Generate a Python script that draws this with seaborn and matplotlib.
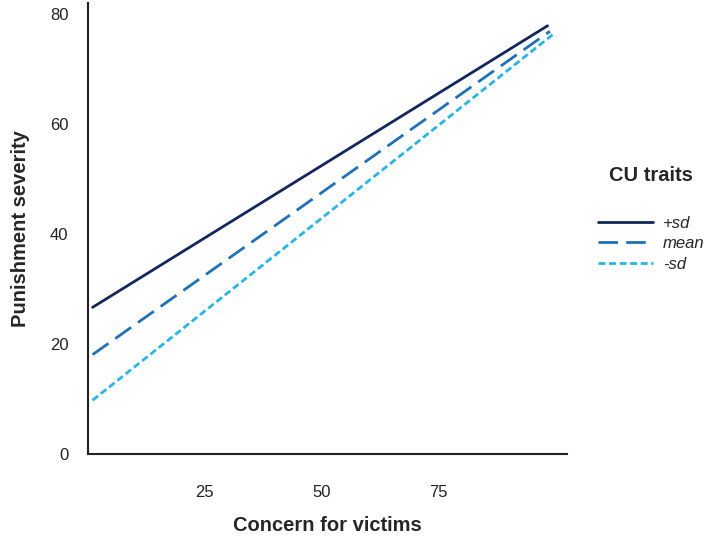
import numpy as np
import pandas as pd
import matplotlib
matplotlib.use("Agg")
import matplotlib.pyplot as plt
import seaborn as sns
from matplotlib.lines import Line2D

groups = ["+sd", "mean", "-sd"]
x_start = [1, 1, 1]
x_end = [98.3, 98.8, 99.4]
y_start = [26.7, 18.1, 9.8]
y_end = [77.9, 76.9, 76.3]
colors = ["#14265c", "#1f70b5", "#2ab4e6"]
xticks = [25, 50, 75]
yticks = [0, 20, 40, 60, 80]

rows = []
for g, xs, xe, ys, ye in zip(groups, x_start, x_end, y_start, y_end):
    rows.append({"Concern": xs, "Punish": ys, "CU": g})
    rows.append({"Concern": xe, "Punish": ye, "CU": g})
df = pd.DataFrame(rows)

sns.set_theme(style="white")
plt.rcParams["font.family"] = ["Liberation Sans", "DejaVu Sans"]

fig = plt.figure(figsize=(7.09, 5.4), dpi=100)
ax = fig.add_axes([0.124, 0.159, 0.676, 0.835])

dash_specs = [None, (7, 3), (2.5, 1.3)]
dashes = {g: (d if d else "") for g, d in zip(groups, dash_specs)}
sns.lineplot(data=df, x="Concern", y="Punish", hue="CU", style="CU",
             hue_order=groups, style_order=groups,
             palette=dict(zip(groups, colors)), dashes=dashes,
             linewidth=2, ax=ax, legend=False)

ax.set_xlim(0, 102.5)
ax.set_ylim(0, 82)
ax.set_xticks(xticks)
ax.set_yticks(yticks)
ax.tick_params(axis="both", labelsize=12, colors="#222222", length=0)
ax.tick_params(axis="x", pad=22)
ax.tick_params(axis="y", pad=14)
for s in ["top", "right"]:
    ax.spines[s].set_visible(False)
for s in ["left", "bottom"]:
    ax.spines[s].set_color("#222222")
    ax.spines[s].set_linewidth(1.5)
ax.set_xlabel("Concern for victims", fontsize=14.5, fontweight="bold", labelpad=12)
ax.set_ylabel("Punishment severity", fontsize=14.5, fontweight="bold", labelpad=14)

handles = [Line2D([], [], color=c, lw=2, linestyle=(0, d) if d else "-")
           for c, d in zip(colors, dash_specs)]
leg = fig.legend(handles, groups, loc="upper left", bbox_to_anchor=(0.822, 0.72),
                 frameon=False, title="CU traits", handlelength=3.3,
                 prop={"size": 12, "style": "italic"}, labelspacing=0.33,
                 handletextpad=0.6)
leg.get_title().set_fontsize(14.5)
leg.get_title().set_fontweight("bold")
leg._legend_box.sep = 22

fig.savefig("out.png", dpi=100)
